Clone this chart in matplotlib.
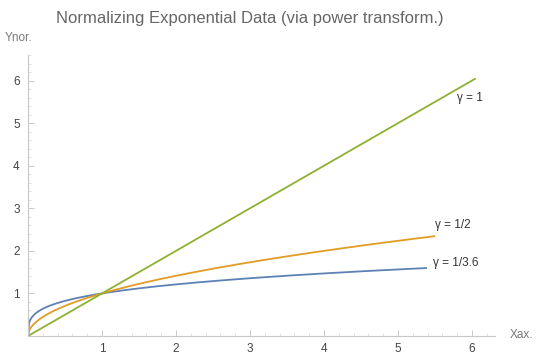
import numpy as np
import matplotlib
matplotlib.use("Agg")
import matplotlib.pyplot as plt
from matplotlib.ticker import MultipleLocator

plt.rcParams['font.family'] = ['Liberation Sans', 'DejaVu Sans']

# power transforms y = x**gamma, each drawn out to its own end point
gammas = [1 / 3.6, 1 / 2, 1.0]
x_ends = [5.39, 5.5, 6.05]
colors = ['#5E81B5', '#E19C24', '#8FB032']
labels = ['\u03b3 = 1/3.6', '\u03b3 = 1/2', '\u03b3 = 1']
label_xy = [(5.47, 1.71), (5.5, 2.6), (5.8, 5.59)]

x_ticks = [1, 2, 3, 4, 5, 6]
y_ticks = [1, 2, 3, 4, 5, 6]

fig = plt.figure(figsize=(5.39, 3.61), dpi=100)
W, H = 539, 361
ax = fig.add_axes([28 / W, (H - 336) / H, (495 - 28) / W, (336 - 55) / H])
ax.set_xlim(0, 6.31)
ax.set_ylim(0, 6.6)

for g, xe, c in zip(gammas, x_ends, colors):
    xs = np.linspace(0, xe, 400)
    ax.plot(xs, xs ** g, color=c, lw=1.3, solid_capstyle='butt')

for (tx, ty), lab in zip(label_xy, labels):
    ax.text(tx, ty, lab, fontsize=8.5, color='#333333', va='center', ha='left')

for s in ['top', 'right']:
    ax.spines[s].set_visible(False)
for s in ['left', 'bottom']:
    ax.spines[s].set_color('#c8c8c8')
    ax.spines[s].set_linewidth(0.8)

ax.set_xticks(x_ticks)
ax.set_yticks(y_ticks)
ax.xaxis.set_minor_locator(MultipleLocator(0.2))
ax.yaxis.set_minor_locator(MultipleLocator(0.2))
ax.tick_params(which='major', direction='in', length=4, width=0.7,
               color='#c8c8c8', labelsize=8.5, labelcolor='#444444', pad=5)
ax.tick_params(which='minor', direction='in', length=2, width=0.5,
               color='#d8d8d8')
ax.tick_params(axis='y', pad=6)

fig.text(250 / W, 1 - 18 / H, 'Normalizing Exponential Data (via power transform.)',
         ha='center', va='center', fontsize=12, color='#666666')
fig.text(5 / W, 1 - 38 / H, 'Ynor.', ha='left', va='center',
         fontsize=8.5, color='#777777')
fig.text(510 / W, 1 - 335 / H, 'Xax.', ha='left', va='center',
         fontsize=8.5, color='#777777')

fig.savefig('out.png', dpi=100)
